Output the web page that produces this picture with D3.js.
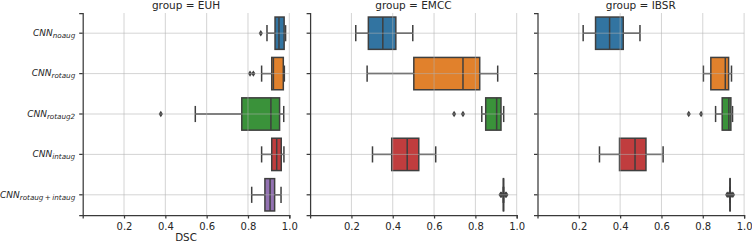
<!DOCTYPE html>
<html>
<head>
<meta charset="utf-8">
<script src="https://cdn.jsdelivr.net/npm/d3@7"></script>
<style>
  body { margin: 0; background: #fff; }
  text { font-family: "DejaVu Sans", sans-serif; fill: #262626; }
</style>
</head>
<body>
<svg id="chart" width="752" height="244"></svg>
<script>
const groups = ["EUH", "EMCC", "IBSR"];

const models = [
  { base: "CNN", sub: "noaug" },
  { base: "CNN", sub: "rotaug" },
  { base: "CNN", sub: "rotaug2" },
  { base: "CNN", sub: "intaug" },
  { base: "CNN", sub: "rotaug\u2009+\u2009intaug" },
];

const boxColors = ["#3274a1", "#e1812c", "#3a923a", "#c03d3e", "#9372b2"];

const xTicks = [0.2, 0.4, 0.6, 0.8, 1.0];

// [whisker low, q1, median, q3, whisker high] per model
const euhStats = [
  [0.892, 0.931, 0.950, 0.975, 0.982],
  [0.866, 0.915, 0.923, 0.971, 0.976],
  [0.545, 0.770, 0.911, 0.953, 0.973],
  [0.866, 0.915, 0.939, 0.961, 0.974],
  [0.818, 0.882, 0.907, 0.929, 0.960],
];
const emccStats = [
  [0.221, 0.282, 0.352, 0.415, 0.497],
  [0.276, 0.502, 0.740, 0.821, 0.908],
  [0.831, 0.850, 0.903, 0.924, 0.937],
  [0.302, 0.395, 0.470, 0.526, 0.608],
  [0.935, 0.9355, 0.936, 0.9365, 0.937],
];
const ibsrStats = [
  [0.221, 0.281, 0.349, 0.415, 0.496],
  [0.803, 0.839, 0.909, 0.925, 0.939],
  [0.862, 0.894, 0.926, 0.936, 0.944],
  [0.300, 0.397, 0.472, 0.525, 0.608],
  [0.931, 0.9315, 0.932, 0.9325, 0.933],
];

const euhOutliers = [[0.862], [0.810, 0.826], [0.378], [], []];
const emccOutliers = [[], [], [0.697, 0.740], [], [0.922, 0.927, 0.945, 0.950]];
const ibsrOutliers = [[], [], [0.732, 0.792], [], [0.918, 0.923, 0.941, 0.946]];

const groupStats = [euhStats, emccStats, ibsrStats];
const groupOutliers = [euhOutliers, emccOutliers, ibsrOutliers];

const layout = {
  left: 82.7,
  top: 13,
  bottom: 215,
  panelWidth: 206.6,
  gap: 20.8,
};

const edgeColor = "#3f3f3f";
const spineColor = "#3a3a3a";

const svg = d3.select("#chart");

const y = d3.scaleBand()
  .domain(d3.range(models.length))
  .range([layout.top, layout.bottom]);

const boxHeight = y.bandwidth() * 0.8;
const capHeight = boxHeight * 0.5;

function drawPanel(p) {
  const x0 = layout.left + p * (layout.panelWidth + layout.gap);
  const x = d3.scaleLinear()
    .domain([0, 1])
    .range([x0, x0 + layout.panelWidth]);

  const g = svg.append("g");
  const stats = groupStats[p];
  const outliers = groupOutliers[p];
  const cy = i => y(i) + y.bandwidth() / 2;

  const rows = g.selectAll("g.row")
    .data(stats)
    .join("g")
    .attr("class", "row");

  // whiskers
  rows.append("line")
    .attr("x1", d => x(d[0])).attr("x2", d => x(d[1]))
    .attr("y1", (d, i) => cy(i)).attr("y2", (d, i) => cy(i))
    .attr("stroke", edgeColor).attr("stroke-width", 1.5);
  rows.append("line")
    .attr("x1", d => x(d[3])).attr("x2", d => x(d[4]))
    .attr("y1", (d, i) => cy(i)).attr("y2", (d, i) => cy(i))
    .attr("stroke", edgeColor).attr("stroke-width", 1.5);

  // caps
  [0, 4].forEach(k => {
    rows.append("line")
      .attr("x1", d => x(d[k])).attr("x2", d => x(d[k]))
      .attr("y1", (d, i) => cy(i) - capHeight / 2)
      .attr("y2", (d, i) => cy(i) + capHeight / 2)
      .attr("stroke", edgeColor).attr("stroke-width", 1.5);
  });

  // boxes
  rows.append("rect")
    .attr("x", d => x(d[1]))
    .attr("width", d => x(d[3]) - x(d[1]))
    .attr("y", (d, i) => cy(i) - boxHeight / 2)
    .attr("height", boxHeight)
    .attr("fill", (d, i) => boxColors[i])
    .attr("stroke", edgeColor)
    .attr("stroke-width", 1.5);

  // medians
  rows.append("line")
    .attr("x1", d => x(d[2])).attr("x2", d => x(d[2]))
    .attr("y1", (d, i) => cy(i) - boxHeight / 2)
    .attr("y2", (d, i) => cy(i) + boxHeight / 2)
    .attr("stroke", edgeColor).attr("stroke-width", 1.5);

  // outliers
  const flat = [];
  outliers.forEach((vals, i) => vals.forEach(v => flat.push({ i, v })));
  g.append("g")
    .selectAll("path")
    .data(flat)
    .join("path")
    .attr("transform", d => `translate(${x(d.v)},${cy(d.i)})`)
    .attr("d", "M0,-3.2L2.1,0L0,3.2L-2.1,0Z")
    .attr("fill", edgeColor);

  // grid on top of the boxes
  const grid = svg.append("g")
    .attr("stroke", "#b0b0b0")
    .attr("stroke-opacity", 0.55)
    .attr("stroke-width", 1);
  grid.selectAll("line.v")
    .data(xTicks)
    .join("line")
    .attr("class", "v")
    .attr("x1", d => x(d)).attr("x2", d => x(d))
    .attr("y1", layout.top).attr("y2", layout.bottom);
  grid.selectAll("line.h")
    .data(d3.range(models.length))
    .join("line")
    .attr("class", "h")
    .attr("x1", x(0)).attr("x2", x(1))
    .attr("y1", d => cy(d)).attr("y2", d => cy(d));

  // axes
  const xAxis = svg.append("g")
    .attr("transform", `translate(0,${layout.bottom})`)
    .call(d3.axisBottom(x)
      .tickValues(xTicks)
      .tickFormat(d3.format(".1f"))
      .tickSizeOuter(0)
      .tickSize(3.5)
      .tickPadding(4));

  const yAxis = svg.append("g")
    .attr("transform", `translate(${x0},0)`)
    .call(d3.axisLeft(y)
      .tickSizeOuter(0)
      .tickSize(3.5)
      .tickPadding(3.5)
      .tickFormat(""));

  [xAxis, yAxis].forEach(a => {
    a.select(".domain").attr("stroke", spineColor).attr("stroke-width", 1.25);
    a.selectAll(".tick line").attr("stroke", spineColor).attr("stroke-width", 1.25);
  });
  xAxis.selectAll(".tick text")
    .attr("font-size", 10)
    .attr("fill", "#262626")
    .attr("font-family", "DejaVu Sans");

  if (p === 0) {
    yAxis.selectAll(".tick").each(function (i) {
      const t = d3.select(this).append("text")
        .attr("x", -7.5)
        .attr("dy", "0.3em")
        .attr("text-anchor", "end")
        .attr("font-size", 9)
        .attr("font-style", "italic")
        .attr("fill", "#262626");
      t.append("tspan").text(models[i].base);
      t.append("tspan")
        .attr("font-size", 7.2)
        .attr("dy", "0.3em")
        .text(models[i].sub);
    });

    svg.append("text")
      .attr("x", (x(0) + x(1)) / 2)
      .attr("y", 241)
      .attr("text-anchor", "middle")
      .attr("font-size", 10.3)
      .text("DSC");
  }

  svg.append("text")
    .attr("x", (x(0) + x(1)) / 2)
    .attr("y", 8.5)
    .attr("text-anchor", "middle")
    .attr("font-size", 10.5)
    .text("group = " + groups[p]);
}

groups.forEach((grp, p) => drawPanel(p));
</script>
</body>
</html>
